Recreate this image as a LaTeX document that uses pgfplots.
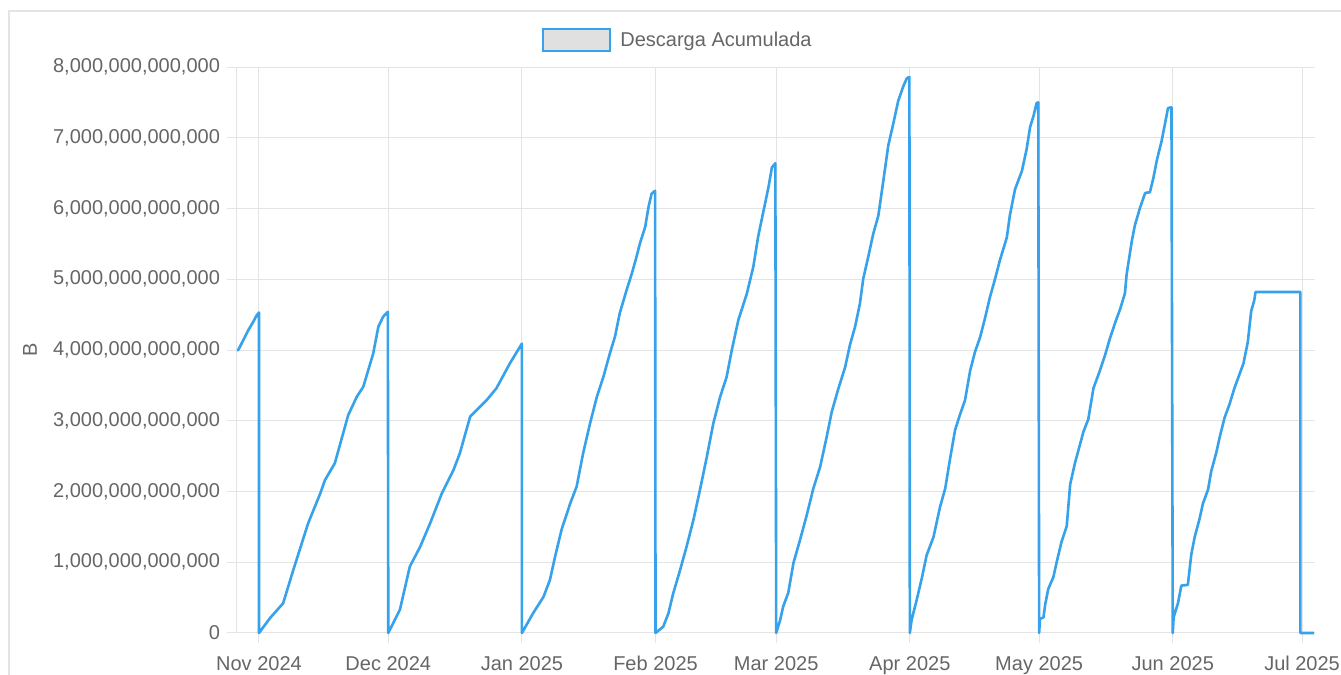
\documentclass[border=0pt]{standalone}
\usepackage{pgfplots}
\pgfplotsset{compat=1.18}
\usepackage{pgfplotstable}
\usepackage{fontspec}
\setmainfont{Liberation Sans}
\definecolor{cjsblue}{HTML}{36A2EB}
\definecolor{txt}{HTML}{666666}
\definecolor{grd}{HTML}{E4E4E4}
\definecolor{lgfill}{HTML}{E0E0E0}
% x: days since 1 Nov 2024; y: bytes / 1e12
\pgfplotstableread{
x y
-5.10 4.00
-4.80 4.00
-3.64 4.14
-2.48 4.28
-1.32 4.40
-0.53 4.49
0.00 4.53
0.00 0.00
2.55 0.21
5.60 0.42
7.96 0.89
11.4 1.55
14.2 1.97
15.3 2.16
17.6 2.40
20.7 3.08
22.7 3.34
24.2 3.48
26.5 3.95
27.7 4.33
28.8 4.47
29.9 4.54
30.0 0.00
32.7 0.33
35.0 0.94
37.4 1.22
39.7 1.55
42.4 1.97
45.1 2.30
46.6 2.54
49.0 3.06
52.8 3.29
55.1 3.46
58.2 3.81
61.0 4.09
61.0 0.00
63.6 0.28
66.0 0.51
67.5 0.75
68.7 1.08
70.2 1.46
72.2 1.83
73.7 2.07
75.2 2.54
76.8 2.96
78.4 3.34
79.9 3.62
81.4 3.95
82.6 4.19
83.7 4.52
85.3 4.85
86.5 5.08
87.6 5.32
88.4 5.51
89.6 5.74
90.4 6.03
91.1 6.21
91.9 6.25
92.0 0.00
93.8 0.09
95.0 0.28
96.1 0.56
97.7 0.89
99.2 1.22
100.8 1.60
102.3 2.02
103.9 2.49
105.4 2.96
107.0 3.34
108.5 3.62
109.7 4.00
111.2 4.42
113.2 4.80
114.7 5.18
115.8 5.60
117.0 5.95
118.2 6.30
119.0 6.58
119.8 6.64
120.0 0.00
120.9 0.18
121.6 0.37
122.8 0.57
124.0 0.99
125.5 1.31
127.1 1.67
128.6 2.04
130.2 2.35
131.7 2.77
132.9 3.13
134.4 3.45
136.0 3.76
137.1 4.07
138.3 4.33
139.4 4.65
140.2 5.01
141.4 5.33
142.5 5.64
143.7 5.90
144.8 6.37
146.0 6.89
147.2 7.21
148.3 7.52
149.5 7.73
150.3 7.84
150.9 7.86
151.0 0.00
151.4 0.18
152.6 0.47
153.8 0.78
154.9 1.10
156.5 1.36
158.0 1.78
159.2 2.04
160.3 2.45
161.5 2.87
162.6 3.08
163.8 3.29
165.0 3.71
166.1 3.97
167.3 4.18
168.4 4.44
169.6 4.75
170.8 5.01
171.9 5.27
173.5 5.59
174.2 5.90
175.4 6.27
177.0 6.53
178.1 6.84
178.9 7.15
179.7 7.31
180.4 7.49
180.8 7.50
181.0 0.00
181.2 0.20
182.0 0.22
182.4 0.40
183.1 0.62
184.3 0.79
185.1 1.01
186.2 1.29
187.4 1.51
188.2 2.10
189.3 2.40
190.5 2.67
191.3 2.85
192.4 3.02
193.6 3.46
195.1 3.71
196.3 3.93
197.4 4.16
198.6 4.38
199.8 4.58
200.9 4.80
201.3 5.07
202.5 5.54
203.2 5.76
204.4 6.01
205.6 6.22
206.7 6.23
207.5 6.43
208.3 6.68
209.4 6.95
210.2 7.20
210.9 7.42
211.7 7.43
212.0 0.00
212.2 0.22
213.2 0.42
214.0 0.67
215.5 0.68
216.3 1.11
217.1 1.36
218.2 1.61
219.0 1.83
220.2 2.03
220.9 2.28
222.1 2.55
222.9 2.77
224.0 3.04
225.2 3.24
226.3 3.46
227.5 3.66
228.4 3.81
229.4 4.11
230.2 4.55
230.9 4.70
231.2 4.82
241.6 4.82
241.6 0.00
244.8 0.00
}\datatable

\begin{document}
\begin{tikzpicture}
\path[use as bounding box] (0,0) rectangle (670.5pt,337.5pt);
\fill[white] (0,0) rectangle (670.5pt,337.5pt);
\begin{scope}
\clip (0,0) rectangle (670.5pt,337.5pt);
\draw[grd, line width=0.75pt] (4.5pt,0pt) -- (4.5pt,332pt) -- (672pt,332pt);
% legend
\draw[cjsblue, fill=lgfill, line width=1pt] (271.5pt,312pt) rectangle (305pt,323pt);
\node[anchor=base west, inner sep=0pt, text=txt, font=\fontsize{10}{12}\selectfont] at (310pt,314.4pt) {Descarga Acumulada};
% y axis title
\node[rotate=90, text=txt, font=\fontsize{10}{12}\selectfont] at (15pt,162.5pt) {B};
\begin{axis}[
  at={(118.5pt,21pt)}, anchor=south west,
  scale only axis, width=539pt, height=283pt,
  xmin=-5.1, xmax=245, ymin=0, ymax=8,
  axis lines*=left,
  axis line style={draw=grd, line width=0.5pt},
  grid=major, major grid style={draw=grd, line width=0.5pt},
  xtick={0,30,61,92,120,151,181,212,242},
  xticklabels={Nov 2024,Dec 2024,Jan 2025,Feb 2025,Mar 2025,Apr 2025,May 2025,Jun 2025,Jul 2025},
  ytick={0,1,2,3,4,5,6,7,8},
  yticklabels={0,{1,000,000,000,000},{2,000,000,000,000},{3,000,000,000,000},{4,000,000,000,000},{5,000,000,000,000},{6,000,000,000,000},{7,000,000,000,000},{8,000,000,000,000}},
  tick align=outside, major tick length=5pt,
  tick style={draw=grd, line width=0.5pt},
  ticklabel style={font=\fontsize{10}{12}\selectfont, text=txt},
  xticklabel style={yshift=-3pt},
  /pgf/number format/assume math mode=true,
  clip=false,
]
\addplot[cjsblue, line width=1.3pt, line join=round, no markers] table {\datatable};
\end{axis}
\end{scope}
\end{tikzpicture}
\end{document}
